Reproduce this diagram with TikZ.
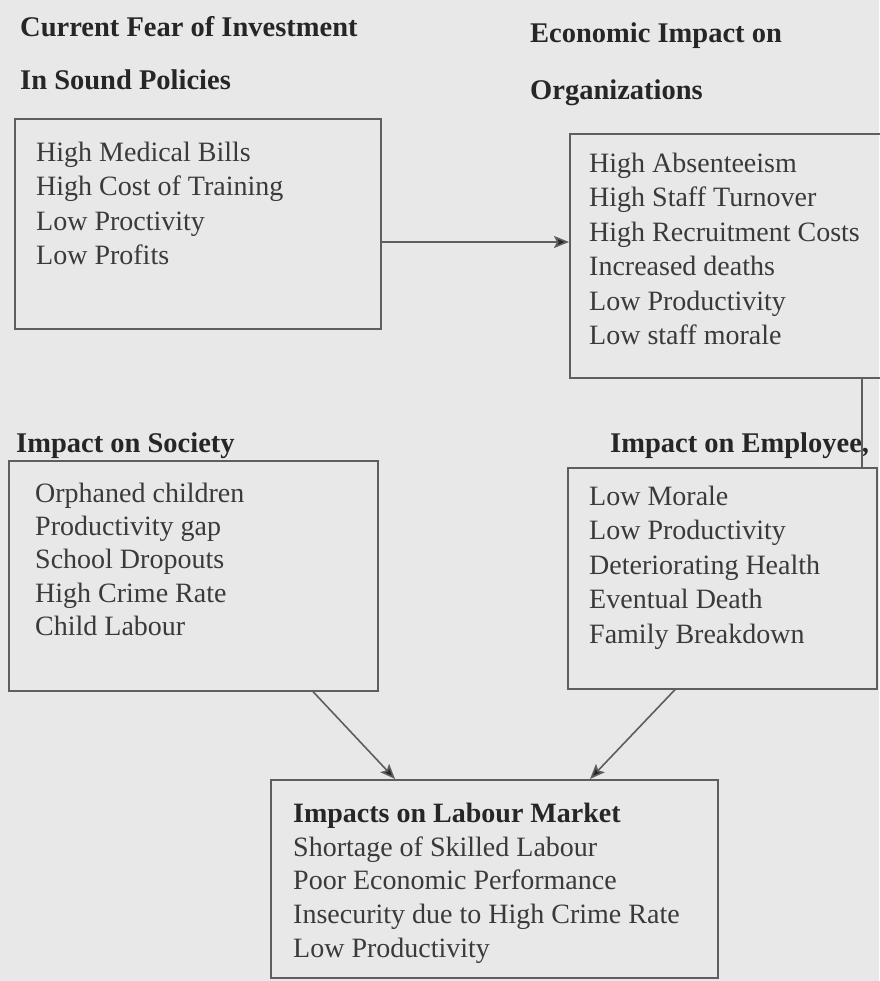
\documentclass[tikz,border=0pt]{standalone}
\usepackage{fontspec}
\setmainfont{Liberation Serif}
\usetikzlibrary{arrows.meta}
\definecolor{bg}{HTML}{E8E8E8}
\definecolor{ink}{HTML}{3A3A3A}
\definecolor{inkb}{HTML}{262626}
\definecolor{edge}{HTML}{5E5E5E}
\newcommand\tb{\rule{0pt}{22pt}}
\tikzset{
  box/.style={draw=edge, line width=1.6pt, inner sep=0pt, fill=none},
  head/.style={anchor=base west, inner sep=0pt, text=inkb, font=\fontsize{28.5}{34}\selectfont\bfseries},
  body/.style={anchor=north west, inner sep=0pt, align=left, text=ink},
  arr/.style={draw=edge, line width=1.6pt, -{Stealth[length=15pt,width=12pt,inset=3pt,fill=inkb]}},
  link/.style={draw=edge, line width=1.6pt}
}
\begin{document}
\begin{tikzpicture}[x=1pt,y=-1pt]
\fill[bg] (0,0) rectangle (879,981);
\useasboundingbox (0,0) rectangle (879,981);

% headers
\node[head] (h1a) at (20,37) {Current Fear of Investment};
\node[head] (h1b) at (20,90) {In Sound Policies};
\node[head] (h2a) at (530,43) {Economic Impact on};
\node[head] (h2b) at (530,100) {Organizations};
\node[head] (h3) at (16,452) {Impact on Society};
\node[head] (h4) at (610,452) {Impact on Employee,};

% boxes
\node[box, minimum width=366pt, minimum height=210pt, anchor=north west] (b1) at (14,118) {};
\node[box, minimum width=316pt, minimum height=244pt, anchor=north west] (b2) at (569,133) {};
\node[box, minimum width=369pt, minimum height=230pt, anchor=north west] (b3) at (8,460) {};
\node[box, minimum width=309pt, minimum height=221pt, anchor=north west] (b4) at (567,467) {};
\node[box, minimum width=447pt, minimum height=198pt, anchor=north west] (b5) at (270,779) {};

% texts
\node[body, font=\fontsize{28}{34.5}\selectfont] (t1) at (36,139)
  {\tb High Medical Bills\\High Cost of Training\\Low Proctivity\\Low Profits};
\node[body, font=\fontsize{28}{34.5}\selectfont] (t2) at (589,150)
  {\tb High Absenteeism\\High Staff Turnover\\High Recruitment Costs\\Increased deaths\\Low Productivity\\Low staff morale};
\node[body, font=\fontsize{28}{33.3}\selectfont] (t3) at (35,480)
  {\tb Orphaned children\\Productivity gap\\School Dropouts\\High Crime Rate\\Child Labour};
\node[body, font=\fontsize{28}{34.5}\selectfont] (t4) at (589,483)
  {\tb Low Morale\\Low Productivity\\Deteriorating Health\\Eventual Death\\Family Breakdown};
\node[body, font=\fontsize{28}{33.8}\selectfont] (t5) at (293,800)
  {\tb{\color{inkb}\bfseries Impacts on Labour Market}\\Shortage of Skilled Labour\\Poor Economic Performance\\Insecurity due to High Crime Rate\\Low Productivity};

% connectors
\coordinate (a1) at (0,242);
\draw[arr] (b1.east |- a1) -- (b2.west |- a1);
\coordinate (v) at (862,0);
\draw[link] (v |- b2.south) -- (v |- b4.north);
\coordinate (d1) at (313,0);
\coordinate (d2) at (395,0);
\draw[arr] (d1 |- b3.south) -- (d2 |- b5.north);
\coordinate (e1) at (675,0);
\coordinate (e2) at (590,0);
\draw[arr] (e1 |- b4.south) -- (e2 |- b5.north);
\end{tikzpicture}
\end{document}
